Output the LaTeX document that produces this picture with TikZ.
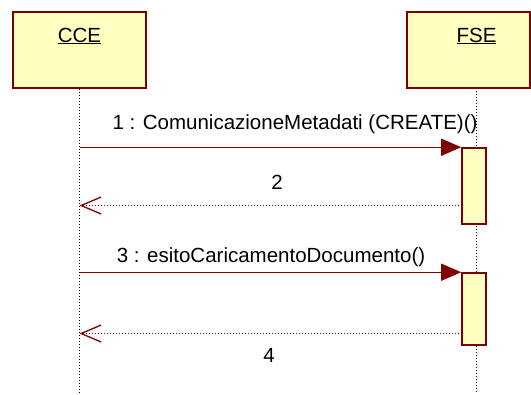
\documentclass[tikz,border=0pt]{standalone}
\usepackage{fontspec}
\setmainfont{Liberation Sans}
\usetikzlibrary{arrows.meta,positioning}

\definecolor{umlred}{RGB}{128,0,0}
\definecolor{umlyellow}{RGB}{255,255,192}

\begin{document}
\begin{tikzpicture}[
		x=1bp, y=-1bp,
		basic/.style    = {draw=umlred, fill=umlyellow, line width=1.6pt, rectangle, inner sep=0pt},
		object/.style   = {basic, minimum width=133bp, minimum height=76bp},
		activ/.style    = {basic, minimum width=24bp},
		objname/.style  = {anchor=base, inner sep=0pt, font=\fontsize{20.5bp}{24bp}\selectfont},
		msg/.style      = {objname},
		lifeline/.style = {draw=black, line width=1bp, dash pattern=on 1.2bp off 1.8bp},
		call/.style     = {draw=umlred, line width=1.3pt, -{Triangle[length=20bp,width=17bp]}},
		reply/.style    = {draw=umlred, line width=1bp, dash pattern=on 1.2bp off 1.8bp,
		                   -{Straight Barb[length=20bp,width=17bp,line width=1.3pt]}},
		>=latex]

		\useasboundingbox (0,0) rectangle (531,394);

		% the two objects
		\node[object] (cce) at (79.5,50) {};
		\node[object, minimum width=123bp] (fse) at (468.5,50) {};
		\node[objname] (ccename) at (79.5,42) {\underline{CCE}};
		\node[objname] (fsename) at (476.5,42) {\underline{FSE}};

		% lifelines
		\coordinate (fsetop) at (476.5,88);
		\coordinate (ccebot) at (79.5,394);
		\coordinate (fsebot) at (476.5,394);
		\draw[lifeline] (cce.south) -- (ccebot);
		\draw[lifeline] (fsetop) -- (fsebot);

		% activations on FSE
		\node[activ, minimum height=76bp] (act1) at (474,186) {};
		\node[activ, minimum height=72bp] (act2) at (474,309) {};

		% messages
		\draw[call] (cce.south |- act1.north west) -- (act1.north west);
		\node[msg] (m1) at (295,129) {1 : ComunicazioneMetadati (CREATE)()};

		\coordinate (r2) at (462,205.5);
		\draw[reply] (r2) -- (cce.south |- r2);
		\node[msg] (m2) at (277,189) {2};

		\draw[call] (cce.south |- act2.north west) -- (act2.north west);
		\node[msg] (m3) at (271,262) {3 : esitoCaricamentoDocumento()};

		\coordinate (r4) at (462,333.5);
		\draw[reply] (r4) -- (cce.south |- r4);
		\node[msg] (m4) at (269,362) {4};

	\end{tikzpicture}
\end{document}
